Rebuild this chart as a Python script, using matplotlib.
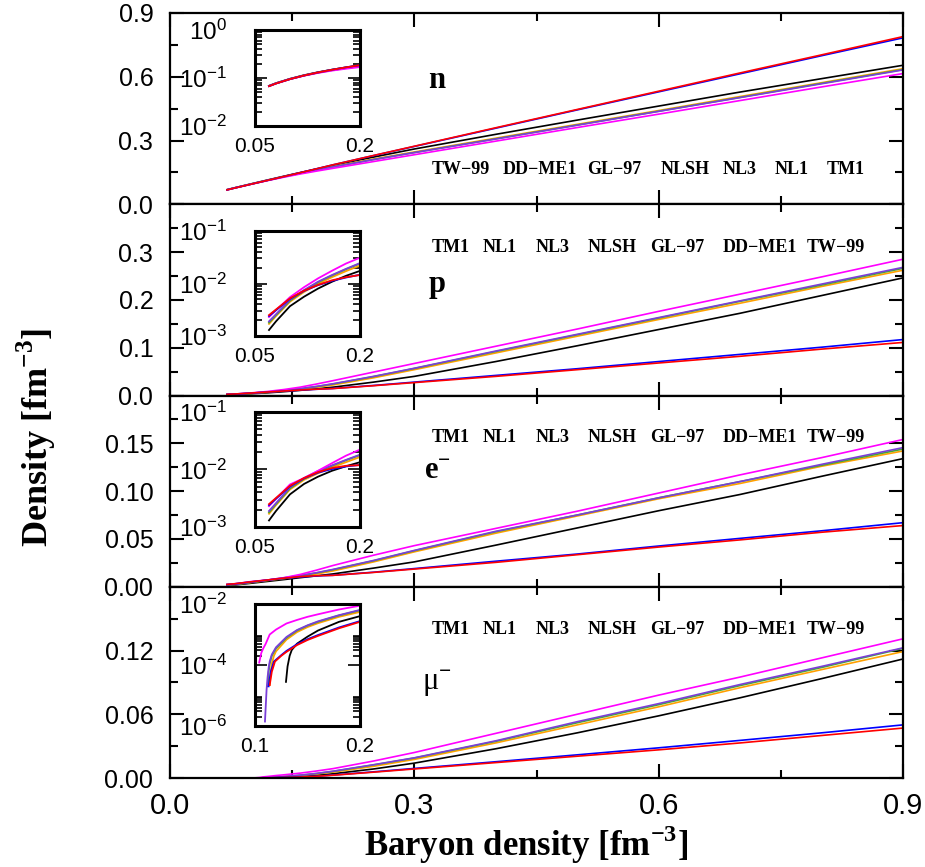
#!/usr/bin/env python3
"""
Particle densities (n, p, e-, mu-) versus baryon density for seven RMF
parametrisations, four stacked panels with log-scale low-density insets.
"""

import matplotlib
matplotlib.use("Agg")
import matplotlib.pyplot as plt
from matplotlib.ticker import MultipleLocator, FixedLocator, NullFormatter

plt.rcParams["font.family"] = "Liberation Sans"
plt.rcParams["mathtext.fontset"] = "custom"
plt.rcParams["mathtext.rm"] = "Liberation Serif"
plt.rcParams["mathtext.bf"] = "Liberation Serif:bold"
plt.rcParams["mathtext.sf"] = "Liberation Sans"

W_PX, H_PX = 925, 867
SERIF = "Liberation Serif"

# ---------------------------------------------------------------- data
# draw order: last one ends up on top
MODELS = ["GL-97", "TM1", "NLSH", "NL3", "NL1", "DD-ME1", "TW-99"]
COLORS = {"GL-97": "#000000", "TM1": "#ffa000", "NLSH": "#44aa33",
          "NL3": "#7a3fd8", "NL1": "#ff00ff", "DD-ME1": "#0000ff",
          "TW-99": "#ff0000"}

NB = [0.07, 0.08, 0.10, 0.12, 0.14, 0.16, 0.18, 0.20, 0.25, 0.30,
      0.40, 0.50, 0.60, 0.70, 0.80, 0.90]

N_DENS = {
    "NL1":    [0.0677, 0.0769, 0.0945, 0.1115, 0.1275, 0.1425, 0.156, 0.169, 0.201, 0.233, 0.297, 0.361, 0.424, 0.488, 0.552, 0.615],
    "NL3":    [0.0681, 0.0774, 0.0951, 0.1125, 0.1292, 0.1455, 0.161, 0.1755, 0.210, 0.243, 0.307, 0.372, 0.437, 0.502, 0.567, 0.632],
    "NLSH":   [0.0682, 0.0775, 0.0953, 0.1127, 0.1295, 0.1458, 0.1613, 0.176, 0.2105, 0.2435, 0.308, 0.373, 0.438, 0.503, 0.569, 0.634],
    "TM1":    [0.0683, 0.0776, 0.0955, 0.1131, 0.1302, 0.1468, 0.1628, 0.178, 0.213, 0.246, 0.311, 0.376, 0.441, 0.507, 0.572, 0.638],
    "GL-97":  [0.0687, 0.0781, 0.0963, 0.1144, 0.132, 0.1492, 0.166, 0.1826, 0.222, 0.260, 0.329, 0.396, 0.462, 0.528, 0.591, 0.654],
    "TW-99":  [0.0675, 0.0768, 0.0948, 0.1127, 0.1306, 0.1485, 0.1668, 0.1855, 0.2295, 0.273, 0.360, 0.446, 0.532, 0.618, 0.703, 0.789],
    "DD-ME1": [0.0676, 0.0769, 0.0949, 0.1128, 0.1307, 0.1488, 0.167, 0.1853, 0.229, 0.272, 0.358, 0.444, 0.529, 0.614, 0.699, 0.783],
}

P_DENS = {
    "NL1":    [0.0023, 0.0031, 0.0055, 0.0085, 0.0125, 0.0175, 0.024, 0.031, 0.049, 0.067, 0.103, 0.139, 0.176, 0.212, 0.248, 0.285],
    "NL3":    [0.0019, 0.0026, 0.0049, 0.0075, 0.0108, 0.0145, 0.019, 0.0245, 0.040, 0.057, 0.093, 0.128, 0.163, 0.198, 0.233, 0.268],
    "NLSH":   [0.0018, 0.0025, 0.0047, 0.0073, 0.0105, 0.0142, 0.0187, 0.024, 0.0395, 0.0565, 0.092, 0.127, 0.162, 0.197, 0.231, 0.266],
    "TM1":    [0.0017, 0.0024, 0.0045, 0.0069, 0.0098, 0.0132, 0.0172, 0.022, 0.037, 0.054, 0.089, 0.124, 0.159, 0.193, 0.228, 0.262],
    "GL-97":  [0.0013, 0.0019, 0.0037, 0.0056, 0.0080, 0.0108, 0.014, 0.0174, 0.028, 0.040, 0.071, 0.104, 0.138, 0.172, 0.209, 0.246],
    "TW-99":  [0.0025, 0.0032, 0.0052, 0.0073, 0.0094, 0.0115, 0.0132, 0.0145, 0.0205, 0.027, 0.040, 0.054, 0.068, 0.082, 0.097, 0.111],
    "DD-ME1": [0.0024, 0.0031, 0.0051, 0.0072, 0.0093, 0.0112, 0.013, 0.0147, 0.021, 0.028, 0.042, 0.056, 0.071, 0.086, 0.101, 0.117],
}

E_DENS = {
    "NL1":    [0.0023, 0.0031, 0.0055, 0.0071, 0.0095, 0.0129, 0.0174, 0.0222, 0.033, 0.043, 0.061, 0.079, 0.098, 0.117, 0.135, 0.154],
    "NL3":    [0.0019, 0.0026, 0.0049, 0.0071, 0.0094, 0.0118, 0.0147, 0.0181, 0.0275, 0.038, 0.058, 0.075, 0.093, 0.110, 0.128, 0.1455],
    "NLSH":   [0.0018, 0.0025, 0.0047, 0.0069, 0.0092, 0.0116, 0.0145, 0.0178, 0.0272, 0.0377, 0.0575, 0.075, 0.093, 0.110, 0.127, 0.144],
    "TM1":    [0.0017, 0.0024, 0.0045, 0.0066, 0.0086, 0.0109, 0.0134, 0.0165, 0.026, 0.0365, 0.056, 0.074, 0.092, 0.108, 0.126, 0.142],
    "GL-97":  [0.0013, 0.0019, 0.0037, 0.0056, 0.0075, 0.0095, 0.0114, 0.0134, 0.0195, 0.026, 0.0435, 0.0615, 0.0795, 0.0965, 0.1155, 0.134],
    "TW-99":  [0.0025, 0.0032, 0.0052, 0.0071, 0.0090, 0.0106, 0.0116, 0.0119, 0.015, 0.0185, 0.0255, 0.0335, 0.0415, 0.049, 0.057, 0.064],
    "DD-ME1": [0.0024, 0.0031, 0.0051, 0.0070, 0.0088, 0.0102, 0.0113, 0.0120, 0.0152, 0.019, 0.0267, 0.0342, 0.0426, 0.0506, 0.0585, 0.067],
}

# muons switch on at model dependent thresholds -> own density grids
MU_NB = {
    "NL1":    [0.104, 0.106, 0.108, 0.110, 0.114, 0.12, 0.13, 0.14, 0.15, 0.16, 0.18, 0.20, 0.25, 0.3, 0.4, 0.5, 0.6, 0.7, 0.8, 0.9],
    "NL3":    [0.1095, 0.111, 0.112, 0.113, 0.114, 0.116, 0.12, 0.13, 0.14, 0.15, 0.16, 0.18, 0.20, 0.25, 0.3, 0.4, 0.5, 0.6, 0.7, 0.8, 0.9],
    "NLSH":   [0.112, 0.113, 0.114, 0.116, 0.12, 0.13, 0.14, 0.15, 0.16, 0.18, 0.20, 0.25, 0.3, 0.4, 0.5, 0.6, 0.7, 0.8, 0.9],
    "TM1":    [0.114, 0.115, 0.116, 0.118, 0.12, 0.13, 0.14, 0.15, 0.16, 0.18, 0.20, 0.25, 0.3, 0.4, 0.5, 0.6, 0.7, 0.8, 0.9],
    "GL-97":  [0.1295, 0.131, 0.133, 0.135, 0.14, 0.15, 0.16, 0.18, 0.20, 0.25, 0.3, 0.4, 0.5, 0.6, 0.7, 0.8, 0.9],
    "TW-99":  [0.114, 0.116, 0.119, 0.125, 0.13, 0.14, 0.15, 0.16, 0.18, 0.20, 0.25, 0.3, 0.4, 0.5, 0.6, 0.7, 0.8, 0.9],
    "DD-ME1": [0.113, 0.115, 0.118, 0.125, 0.13, 0.14, 0.15, 0.16, 0.18, 0.20, 0.25, 0.3, 0.4, 0.5, 0.6, 0.7, 0.8, 0.9],
}
MU_DENS = {
    "NL1":    [1.2e-4, 2.5e-4, 3.6e-4, 4.8e-4, 1.0e-3, 1.45e-3, 2.3e-3, 3.0e-3, 3.8e-3, 4.6e-3, 6.6e-3, 8.8e-3, 0.016, 0.024, 0.042, 0.060, 0.078, 0.095, 0.113, 0.131],
    "NL3":    [1.4e-6, 1.5e-5, 4e-5, 8e-5, 1.3e-4, 2.2e-4, 3.8e-4, 8.3e-4, 1.4e-3, 2.0e-3, 2.7e-3, 4.3e-3, 6.4e-3, 0.0125, 0.019, 0.035, 0.053, 0.070, 0.088, 0.105, 0.1225],
    "NLSH":   [2e-5, 6e-5, 1.1e-4, 2e-4, 3.5e-4, 7.8e-4, 1.35e-3, 1.95e-3, 2.6e-3, 4.2e-3, 6.2e-3, 0.0123, 0.0188, 0.0345, 0.052, 0.069, 0.087, 0.104, 0.122],
    "TM1":    [2.2e-5, 6e-5, 1.1e-4, 2e-4, 2.8e-4, 6.8e-4, 1.2e-3, 1.75e-3, 2.35e-3, 3.8e-3, 5.5e-3, 0.011, 0.0175, 0.033, 0.050, 0.067, 0.085, 0.102, 0.119],
    "GL-97":  [2.8e-5, 9e-5, 2e-4, 3.1e-4, 5e-4, 8.5e-4, 1.35e-3, 2.6e-3, 4e-3, 8.5e-3, 0.014, 0.0275, 0.0425, 0.0585, 0.0755, 0.0935, 0.112],
    "TW-99":  [2.2e-5, 6e-5, 1.3e-4, 2e-4, 2.7e-4, 4.5e-4, 6.6e-4, 9e-4, 1.6e-3, 2.6e-3, 5.5e-3, 8.5e-3, 0.0145, 0.0205, 0.0265, 0.033, 0.040, 0.047],
    "DD-ME1": [2e-5, 6e-5, 1.3e-4, 2.1e-4, 2.9e-4, 4.8e-4, 7e-4, 9.6e-4, 1.7e-3, 2.75e-3, 5.8e-3, 9e-3, 0.0153, 0.0218, 0.0284, 0.0354, 0.0425, 0.050],
}

LABELS_TOP = ["TW\u221299", "DD\u2212ME1", "GL\u221297", "NLSH", "NL3", "NL1", "TM1"]
LABELS_LOW = ["TM1", "NL1", "NL3", "NLSH", "GL\u221297", "DD\u2212ME1", "TW\u221299"]

# ---------------------------------------------------------------- layout
def fx(px):
    return px / W_PX

def fy(py):
    return 1 - py / H_PX

AX_LEFT, AX_RIGHT, AX_TOP, AX_BOT = 170, 903, 13, 778

PANELS = [
    # ymax, major step, fmt, species label, label baseline (axes frac), inset (top,bottom px), inset decades, inset xlim
    dict(ymax=0.9, step=0.3, fmt="%.1f", name=r"$\mathbf{n}$", ly=0.607,
         inset=(30, 126), dec=(-2, -1, 0), major=(-2, -1, 0), xlim=(0.05, 0.2),
         lab_x=[461, 540, 614, 685, 740, 792, 846], lab_y=170, labels=LABELS_TOP),
    dict(ymax=0.4, step=0.1, fmt="%.1f", name=r"$\mathbf{p}$", ly=0.539,
         inset=(231, 336), dec=(-3, -2, -1), major=(-3, -2, -1), xlim=(0.05, 0.2),
         lab_x=[451, 500, 553, 612, 677, 760, 836], lab_y=248, labels=LABELS_LOW),
    dict(ymax=0.2, step=0.05, fmt="%.2f", name=r"$\mathbf{e}^{\mathbf{-}}$", ly=0.565,
         inset=(412, 527), dec=(-3, -2, -1), major=(-3, -2, -1), xlim=(0.05, 0.2),
         lab_x=[451, 500, 553, 612, 677, 760, 836], lab_y=437, labels=LABELS_LOW),
    dict(ymax=0.18, step=0.06, fmt="%.2f", name=r"$\mathrm{\mu}^{\mathbf{-}}$", ly=0.46,
         inset=(604, 726), dec=(-6, -4, -2), major=(-6, -4, -2), xlim=(0.1, 0.2),
         lab_x=[451, 500, 553, 612, 677, 760, 836], lab_y=630, labels=LABELS_LOW),
]


def style_main(ax, cfg, bottom):
    top = cfg["ymax"]
    step = cfg["step"]
    n = int(round(top / step))
    ticks = [i * step for i in range(n + 1)]
    labels = [cfg["fmt"] % t for t in ticks]
    if top != 0.9:
        labels[-1] = ""
    ax.set_ylim(0, top)
    ax.set_yticks(ticks, labels)
    ax.yaxis.set_minor_locator(MultipleLocator(step / 2))
    ax.set_xlim(0, 0.9)
    ax.xaxis.set_major_locator(MultipleLocator(0.3))
    ax.xaxis.set_minor_locator(MultipleLocator(0.15))
    ax.tick_params(which="both", direction="in", top=True, right=True, width=1.5)
    ax.tick_params(which="major", length=10)
    ax.tick_params(which="minor", length=6)
    ax.tick_params(axis="y", labelsize=18, pad=12)
    ax.tick_params(axis="x", labelsize=21, pad=10, labelbottom=bottom)
    for sp in ax.spines.values():
        sp.set_linewidth(1.6)


def add_inset(fig, cfg):
    t, b = cfg["inset"]
    axi = fig.add_axes([fx(255), fy(b), fx(360) - fx(255), fy(t) - fy(b)])
    axi.set_yscale("log")
    lo, mid, hi = cfg["dec"]
    axi.set_ylim(10.0 ** lo, 10.0 ** hi)
    axi.set_xlim(*cfg["xlim"])
    majors = [10.0 ** d for d in cfg["major"]]
    axi.yaxis.set_major_locator(FixedLocator(majors))
    axi.set_yticks(majors, [r"$\mathsf{10^{%d}}$" % d for d in cfg["major"]])
    minors = [k * m for m in majors[:-1] for k in range(2, 10)]
    axi.yaxis.set_minor_locator(FixedLocator(minors))
    axi.yaxis.set_minor_formatter(NullFormatter())
    x0, x1 = cfg["xlim"]
    axi.set_xticks([x0, x1], ["%g" % x0, "%g" % x1])
    axi.tick_params(axis="y", which="both", direction="in", left=True, right=True, width=1.2)
    axi.tick_params(axis="y", which="major", length=8.5, labelsize=17.5, pad=20)
    axi.tick_params(axis="y", which="minor", length=5)
    axi.tick_params(axis="x", length=0, labelsize=15, pad=8)
    for sp in axi.spines.values():
        sp.set_linewidth(2.2)
    return axi


def main():
    fig = plt.figure(figsize=(W_PX / 100, H_PX / 100), dpi=100)
    axes = fig.subplots(4, 1, sharex=True)
    fig.subplots_adjust(left=fx(AX_LEFT), right=fx(AX_RIGHT), top=fy(AX_TOP),
                        bottom=fy(AX_BOT), hspace=0)

    species = [N_DENS, P_DENS, E_DENS, None]

    for k, (ax, cfg) in enumerate(zip(axes, PANELS)):
        style_main(ax, cfg, bottom=(k == 3))
        axi = add_inset(fig, cfg)
        for m in MODELS:
            if species[k] is None:
                xs, ys = MU_NB[m], MU_DENS[m]
            else:
                xs, ys = NB, species[k][m]
            ax.plot(xs, ys, color=COLORS[m], lw=1.2)
            axi.plot(xs, ys, color=COLORS[m], lw=1.3)

        # model names row
        for lx, txt in zip(cfg["lab_x"], cfg["labels"]):
            fig.text(fx(lx), fy(cfg["lab_y"]), txt, ha="center", va="center",
                     family=SERIF, fontweight="bold", fontsize=13)
        ax.text((437 - AX_LEFT) / (AX_RIGHT - AX_LEFT), cfg["ly"], cfg["name"],
                transform=ax.transAxes, ha="center", va="baseline", fontsize=22)

    fig.text(fx(526), fy(845), r"Baryon density [fm$^{\mathbf{-3}}$]",
             ha="center", va="center", family=SERIF, fontweight="bold", fontsize=25)
    fig.text(fx(36), fy(437), r"Density [fm$^{\mathbf{-3}}$]", rotation=90,
             ha="center", va="center", family=SERIF, fontweight="bold", fontsize=26)

    fig.savefig("out.png", dpi=100)
    plt.close(fig)


if __name__ == "__main__":
    main()
